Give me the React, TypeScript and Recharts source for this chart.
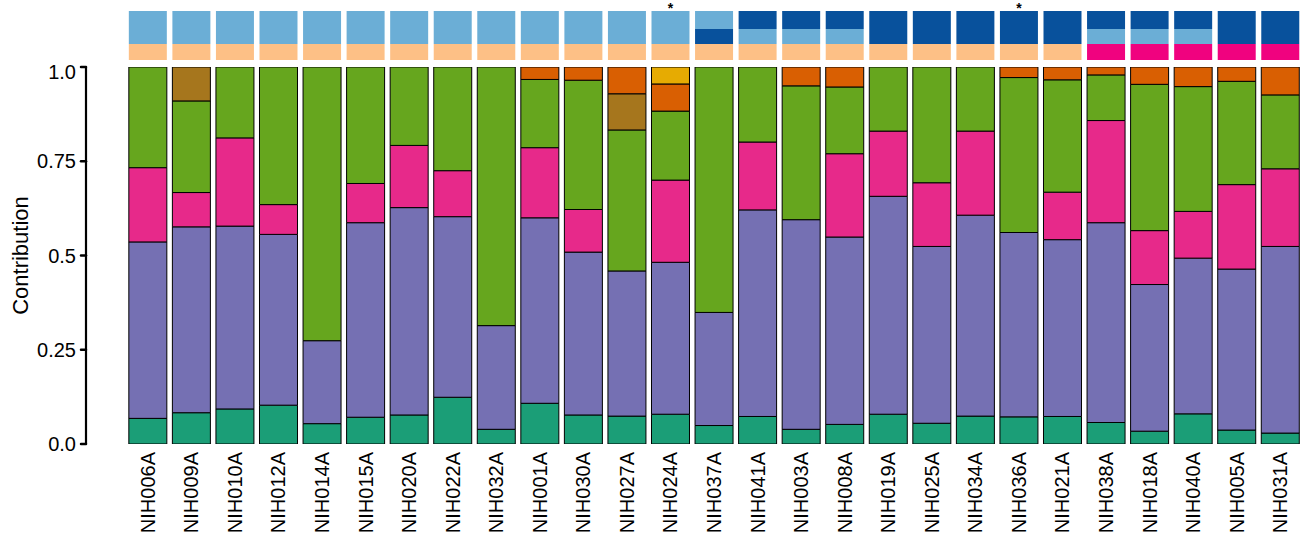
import { BarChart, Bar, XAxis, YAxis, Cell, Label, LabelList } from 'recharts';

const samples = [
  'NIH006A', 'NIH009A', 'NIH010A', 'NIH012A', 'NIH014A', 'NIH015A', 'NIH020A', 'NIH022A', 'NIH032A',
  'NIH001A', 'NIH030A', 'NIH027A', 'NIH024A', 'NIH037A', 'NIH041A', 'NIH003A', 'NIH008A', 'NIH019A',
  'NIH025A', 'NIH034A', 'NIH036A', 'NIH021A', 'NIH038A', 'NIH018A', 'NIH040A', 'NIH005A', 'NIH031A',
];

// signature contributions, bottom to top
const sigTeal = [0.068, 0.083, 0.093, 0.103, 0.054, 0.071, 0.077, 0.124, 0.039, 0.108, 0.077, 0.074, 0.079, 0.049, 0.073, 0.039, 0.052, 0.079, 0.055, 0.074, 0.072, 0.073, 0.057, 0.034, 0.080, 0.037, 0.029];
const sigPurple = [0.468, 0.493, 0.485, 0.453, 0.220, 0.516, 0.550, 0.479, 0.275, 0.492, 0.432, 0.385, 0.403, 0.300, 0.548, 0.556, 0.497, 0.578, 0.469, 0.533, 0.489, 0.469, 0.530, 0.389, 0.413, 0.427, 0.495];
const sigPink = [0.197, 0.091, 0.234, 0.079, 0, 0.104, 0.165, 0.122, 0, 0.186, 0.113, 0, 0.218, 0, 0.180, 0, 0.221, 0.173, 0.169, 0.223, 0, 0.126, 0.271, 0.143, 0.124, 0.224, 0.206];
const sigGreen = [0.267, 0.243, 0.188, 0.365, 0.726, 0.309, 0.208, 0.275, 0.686, 0.181, 0.343, 0.374, 0.183, 0.651, 0.199, 0.355, 0.177, 0.170, 0.307, 0.170, 0.411, 0.298, 0.121, 0.388, 0.331, 0.274, 0.196];
const sigBrown = [0, 0.090, 0, 0, 0, 0, 0, 0, 0, 0, 0, 0.096, 0, 0, 0, 0, 0, 0, 0, 0, 0, 0, 0, 0, 0, 0, 0];
const sigOrange = [0, 0, 0, 0, 0, 0, 0, 0, 0, 0.033, 0.035, 0.071, 0.072, 0, 0, 0.050, 0.053, 0, 0, 0, 0.028, 0.034, 0.021, 0.046, 0.052, 0.038, 0.074];
const sigYellow = [0, 0, 0, 0, 0, 0, 0, 0, 0, 0, 0, 0, 0.045, 0, 0, 0, 0, 0, 0, 0, 0, 0, 0, 0, 0, 0, 0];

// annotation tiles above the bars
const tierUpper = ['light', 'light', 'light', 'light', 'light', 'light', 'light', 'light', 'light', 'light', 'light', 'light', 'light', 'light', 'dark', 'dark', 'dark', 'dark', 'dark', 'dark', 'dark', 'dark', 'dark', 'dark', 'dark', 'dark', 'dark'];
const tierLower = ['light', 'light', 'light', 'light', 'light', 'light', 'light', 'light', 'light', 'light', 'light', 'light', 'light', 'dark', 'light', 'light', 'light', 'dark', 'dark', 'dark', 'dark', 'dark', 'light', 'light', 'light', 'dark', 'dark'];
const cohort = ['A', 'A', 'A', 'A', 'A', 'A', 'A', 'A', 'A', 'A', 'A', 'A', 'A', 'A', 'A', 'A', 'A', 'A', 'A', 'A', 'A', 'A', 'B', 'B', 'B', 'B', 'B'];
const marks = ['', '', '', '', '', '', '', '', '', '', '', '', '*', '', '', '', '', '', '', '', '*', '', '', '', '', '', ''];

const yTicks = [0, 0.25, 0.5, 0.75, 1];
const yTickLabels = ['0.0', '0.25', '0.5', '0.75', '1.0'];

const series = [
  { key: 'teal', values: sigTeal, color: '#1B9E77' },
  { key: 'purple', values: sigPurple, color: '#7570B3' },
  { key: 'pink', values: sigPink, color: '#E7298A' },
  { key: 'green', values: sigGreen, color: '#66A61E' },
  { key: 'brown', values: sigBrown, color: '#A6761D' },
  { key: 'orange', values: sigOrange, color: '#D95F02' },
  { key: 'yellow', values: sigYellow, color: '#E6AB02' },
];

const tierColor: Record<string, string> = { light: '#6BAED6', dark: '#08519C' };
const cohortColor: Record<string, string> = { A: '#FDC086', B: '#F0027F' };

const FONT = '"Liberation Sans", Arial, Helvetica, sans-serif';

const rows = samples.map((sample, i) => {
  const row: Record<string, string | number> = { sample };
  series.forEach((s) => {
    row[s.key] = s.values[i];
  });
  return row;
});

const annot = samples.map((sample, i) => ({
  sample,
  cohortBand: 16,
  lowerBand: 15,
  upperBand: 18,
  mark: marks[i],
}));

const XTick = ({ x, y, payload }: any) => (
  <g transform={`translate(${x},${y})`}>
    <text transform="rotate(-90)" textAnchor="end" dy="0.35em" fontSize={20} fill="#000" fontFamily={FONT}>
      {payload.value}
    </text>
  </g>
);

// small marker squeezed into the strip above the tiles
const MarkLabel = ({ x, y, width, value }: any) => {
  if (!value) return null;
  return (
    <text x={x + width / 2} y={y + 2} textAnchor="middle" fontSize={14} fontWeight="bold" fill="#000" fontFamily={FONT}>
      {value}
    </text>
  );
};

const YTitle = ({ viewBox }: any) => {
  const cy = viewBox.y + viewBox.height / 2;
  return (
    <text
      x={20}
      y={cy}
      transform={`rotate(-90, 20, ${cy})`}
      textAnchor="middle"
      dominantBaseline="central"
      fontSize={22}
      fill="#000"
      fontFamily={FONT}
    >
      Contribution
    </text>
  );
};

const App = () => {
  return (
    <div style={{ position: 'absolute', left: 0, top: 0, width: 1302, height: 538, background: '#fff', overflow: 'hidden' }}>
      <BarChart width={1302} height={60} data={annot} margin={{ top: 11, right: 0, left: 86, bottom: 0 }} barCategoryGap="6.5%">
        <XAxis dataKey="sample" hide padding={{ left: 40, right: 0 }} />
        <YAxis hide domain={[0, 49]} allowDataOverflow />
        <Bar dataKey="cohortBand" stackId="t" isAnimationActive={false}>
          {annot.map((d, i) => (
            <Cell key={d.sample} fill={cohortColor[cohort[i]]} />
          ))}
        </Bar>
        <Bar dataKey="lowerBand" stackId="t" isAnimationActive={false}>
          {annot.map((d, i) => (
            <Cell key={d.sample} fill={tierColor[tierLower[i]]} />
          ))}
        </Bar>
        <Bar dataKey="upperBand" stackId="t" isAnimationActive={false}>
          {annot.map((d, i) => (
            <Cell key={d.sample} fill={tierColor[tierUpper[i]]} />
          ))}
          <LabelList dataKey="mark" content={<MarkLabel />} />
        </Bar>
      </BarChart>
      <BarChart width={1302} height={478} data={rows} margin={{ top: 7, right: 0, left: 0, bottom: 0 }} barCategoryGap="6.5%">
        <XAxis
          dataKey="sample"
          interval={0}
          axisLine={false}
          tickLine={false}
          tickSize={0}
          tickMargin={8}
          height={94}
          padding={{ left: 40, right: 0 }}
          tick={<XTick />}
        />
        <YAxis
          width={86}
          domain={[0, 1]}
          allowDataOverflow
          ticks={yTicks}
          tickFormatter={(v: number) => yTickLabels[yTicks.indexOf(v)]}
          axisLine={{ stroke: '#000', strokeWidth: 2.2 }}
          tickLine={{ stroke: '#000', strokeWidth: 2.5, strokeLinecap: 'round' }}
          tickSize={5}
          tickMargin={5}
          tick={{ fill: '#000', fontSize: 20, fontFamily: FONT }}
        >
          <Label content={<YTitle />} />
        </YAxis>
        {series.map((s) => (
          <Bar key={s.key} dataKey={s.key} stackId="sig" fill={s.color} stroke="#000" strokeWidth={1} isAnimationActive={false} />
        ))}
      </BarChart>
    </div>
  );
};

export default App;
